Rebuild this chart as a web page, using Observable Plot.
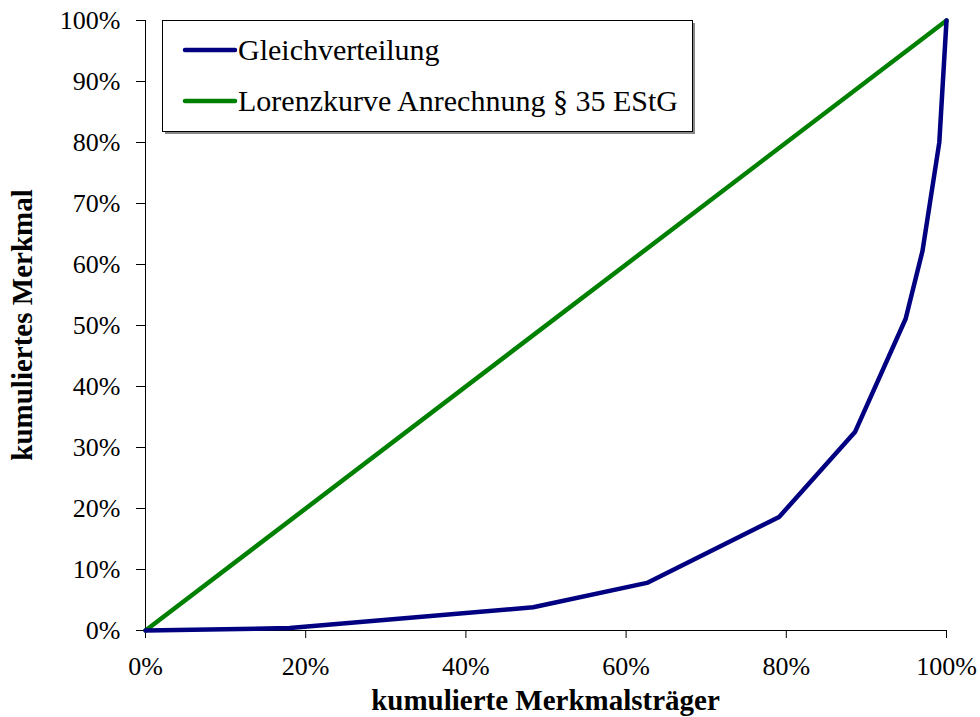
<!DOCTYPE html>
<html>
<head>
<meta charset="utf-8">
<script src="https://cdn.jsdelivr.net/npm/d3@7"></script>
<script src="https://cdn.jsdelivr.net/npm/@observablehq/plot@0.6"></script>
<style>
  html, body { margin: 0; padding: 0; background: #fff; }
  #chart { width: 980px; height: 717px; }
</style>
</head>
<body>
<div id="chart"></div>
<script>
// Series names
const seriesNames = ["Gleichverteilung", "Lorenzkurve Anrechnung § 35 EStG"];
const seriesColors = ["#000080", "#008000"];

// Blue curve (labelled "Gleichverteilung" in the legend)
const blueX = [0, 0.18, 0.484, 0.626, 0.791, 0.886, 0.949, 0.970, 0.991, 1.0];
const blueY = [0, 0.004, 0.038, 0.078, 0.186, 0.326, 0.511, 0.622, 0.800, 1.0];

// Green line (labelled "Lorenzkurve Anrechnung § 35 EStG")
const greenX = [0, 1.0];
const greenY = [0, 1.0];

const xTicks = [0, 0.2, 0.4, 0.6, 0.8, 1.0];
const yTicks = [0, 0.1, 0.2, 0.3, 0.4, 0.5, 0.6, 0.7, 0.8, 0.9, 1.0];

const xTitle = "kumulierte Merkmalsträger";
const yTitle = "kumuliertes Merkmal";

const blue = blueX.map((x, i) => ({x, y: blueY[i]}));
const green = greenX.map((x, i) => ({x, y: greenY[i]}));

const W = 980, H = 717;
const mL = 145, mR = 34, mT = 20, mB = 87;
const font = "'Liberation Serif', 'Times New Roman', serif";

const chart = Plot.plot({
  width: W,
  height: H,
  marginLeft: mL,
  marginRight: mR,
  marginTop: mT,
  marginBottom: mB,
  style: { fontFamily: font, fontSize: "26px", color: "#000", background: "#fff", overflow: "visible" },
  x: { domain: [0, 1], ticks: xTicks, tickFormat: d3.format(".0%") },
  y: { domain: [0, 1], ticks: yTicks, tickFormat: d3.format(".0%") },
  marks: [
    Plot.axisX({ticks: xTicks, tickFormat: d3.format(".0%"), tickSize: 8, tickPadding: 18, label: null, fontSize: 26, stroke: "#000"}),
    Plot.axisY({ticks: yTicks, tickFormat: d3.format(".0%"), tickSize: 9, tickPadding: 16, label: null, fontSize: 26, stroke: "#000"}),
    Plot.ruleX([0], {stroke: "#000", strokeWidth: 1}),
    Plot.ruleY([0], {stroke: "#000", strokeWidth: 1}),
    Plot.line(green, {x: "x", y: "y", stroke: seriesColors[1], strokeWidth: 4.5}),
    Plot.line(blue, {x: "x", y: "y", stroke: seriesColors[0], strokeWidth: 4.5})
  ]
});

document.getElementById("chart").appendChild(chart);

const svg = d3.select(chart);

// Axis titles
svg.append("text")
  .attr("x", mL + (W - mL - mR) / 2)
  .attr("y", 710)
  .attr("text-anchor", "middle")
  .attr("font-family", font)
  .attr("font-size", 29)
  .attr("font-weight", "bold")
  .attr("fill", "#000")
  .text(xTitle);

svg.append("text")
  .attr("transform", `translate(32, ${mT + (H - mT - mB) / 2}) rotate(-90)`)
  .attr("text-anchor", "middle")
  .attr("font-family", font)
  .attr("font-size", 29)
  .attr("font-weight", "bold")
  .attr("fill", "#000")
  .text(yTitle);

// Legend box
const lg = svg.append("g");
lg.append("rect")
  .attr("x", 165).attr("y", 23).attr("width", 530).attr("height", 111)
  .attr("fill", "#888");
lg.append("rect")
  .attr("x", 162.5).attr("y", 20.5).attr("width", 530).attr("height", 111)
  .attr("fill", "#fff").attr("stroke", "#000").attr("stroke-width", 1);
seriesNames.forEach((name, i) => {
  const yy = 50 + i * 51;
  lg.append("line")
    .attr("x1", 185).attr("x2", 235).attr("y1", yy).attr("y2", yy)
    .attr("stroke", seriesColors[i]).attr("stroke-width", 4.5).attr("stroke-linecap", "round");
  lg.append("text")
    .attr("x", 238).attr("y", yy + 10)
    .attr("text-anchor", "start")
    .attr("font-family", font).attr("font-size", 30).attr("fill", "#000")
    .text(name);
});
</script>
</body>
</html>
